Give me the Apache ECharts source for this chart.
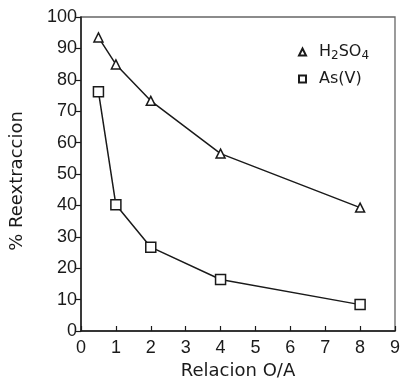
<!DOCTYPE html>
<html>
<head>
<meta charset="utf-8">
<script src="https://cdn.jsdelivr.net/npm/echarts@6/dist/echarts.min.js"></script>
<style>
  html, body { margin: 0; padding: 0; background: #fff; }
  #chart { width: 403px; height: 385px; }
</style>
</head>
<body>
<div id="chart"></div>
<script>
// O/A ratio and stripping percentages
const ratioOA = [0.5, 1, 2, 4, 8];
const h2so4 = [93.5, 84.9, 73.3, 56.5, 39.3];
const asV = [76.2, 40.2, 26.7, 16.4, 8.4];
const xTicks = [0, 1, 2, 3, 4, 5, 6, 7, 8, 9];
const yTicks = [0, 10, 20, 30, 40, 50, 60, 70, 80, 90, 100];

const ink = '#1a1a1a';
const tickFont = { fontFamily: 'Liberation Sans', fontSize: 18, color: ink };

const chart = echarts.init(document.getElementById('chart'));

function pairs(ys) { return ratioOA.map((x, i) => [x, ys[i]]); }

chart.setOption({
  animation: false,
  backgroundColor: '#fff',
  grid: {
    left: 78, right: 6, top: 17, bottom: 51,
    show: true, borderColor: '#666', borderWidth: 1.3, backgroundColor: 'transparent'
  },
  legend: {
    orient: 'vertical',
    left: 293, top: 39,
    itemWidth: 7, itemHeight: 7, itemGap: 9,
    data: [
      { name: 'H2SO4', icon: 'triangle' },
      { name: 'As(V)', icon: 'rect' }
    ],
    formatter: function (name) {
      return name === 'H2SO4' ? 'H{sub|2}SO{sub|4}' : name;
    },
    textStyle: {
      fontFamily: 'DejaVu Sans', fontSize: 16, color: ink, padding: [0, 0, 0, 8],
      rich: {
        sub: { fontFamily: 'DejaVu Sans', fontSize: 12, color: ink, verticalAlign: 'bottom', padding: [8, 0, 0, 0] }
      }
    }
  },
  xAxis: {
    type: 'value', min: 0, max: 9, interval: 1,
    name: 'Relacion O/A', nameLocation: 'middle', nameGap: 31,
    nameTextStyle: { fontFamily: 'DejaVu Sans', fontSize: 18, color: ink },
    axisLine: { lineStyle: { color: ink, width: 1.5 } },
    axisTick: { inside: true, length: 5, lineStyle: { color: ink, width: 1.2 } },
    axisLabel: Object.assign({ margin: 8, formatter: v => xTicks.includes(v) ? String(v) : '' }, tickFont),
    splitLine: { show: false }
  },
  yAxis: {
    type: 'value', min: 0, max: 100, interval: 10,
    name: '% Reextraccion', nameLocation: 'middle', nameGap: 55, nameRotate: 90,
    nameTextStyle: { fontFamily: 'DejaVu Sans', fontSize: 18, color: ink, padding: [0, 0, 0, -14] },
    axisLine: { show: true, lineStyle: { color: ink, width: 1.5 } },
    axisTick: { show: true, inside: false, length: 5, lineStyle: { color: ink, width: 1.2 } },
    axisLabel: Object.assign({ margin: 4, formatter: v => yTicks.includes(v) ? String(v) : '' }, tickFont),
    splitLine: { show: false }
  },
  series: [
    {
      name: 'H2SO4', type: 'line', data: pairs(h2so4),
      symbol: 'triangle', symbolSize: 9,
      lineStyle: { color: ink, width: 1.5 },
      itemStyle: { color: '#fff', borderColor: ink, borderWidth: 1.5 }
    },
    {
      name: 'As(V)', type: 'line', data: pairs(asV),
      symbol: 'rect', symbolSize: 10,
      lineStyle: { color: ink, width: 1.5 },
      itemStyle: { color: '#fff', borderColor: ink, borderWidth: 1.5 }
    }
  ]
});
</script>
</body>
</html>
